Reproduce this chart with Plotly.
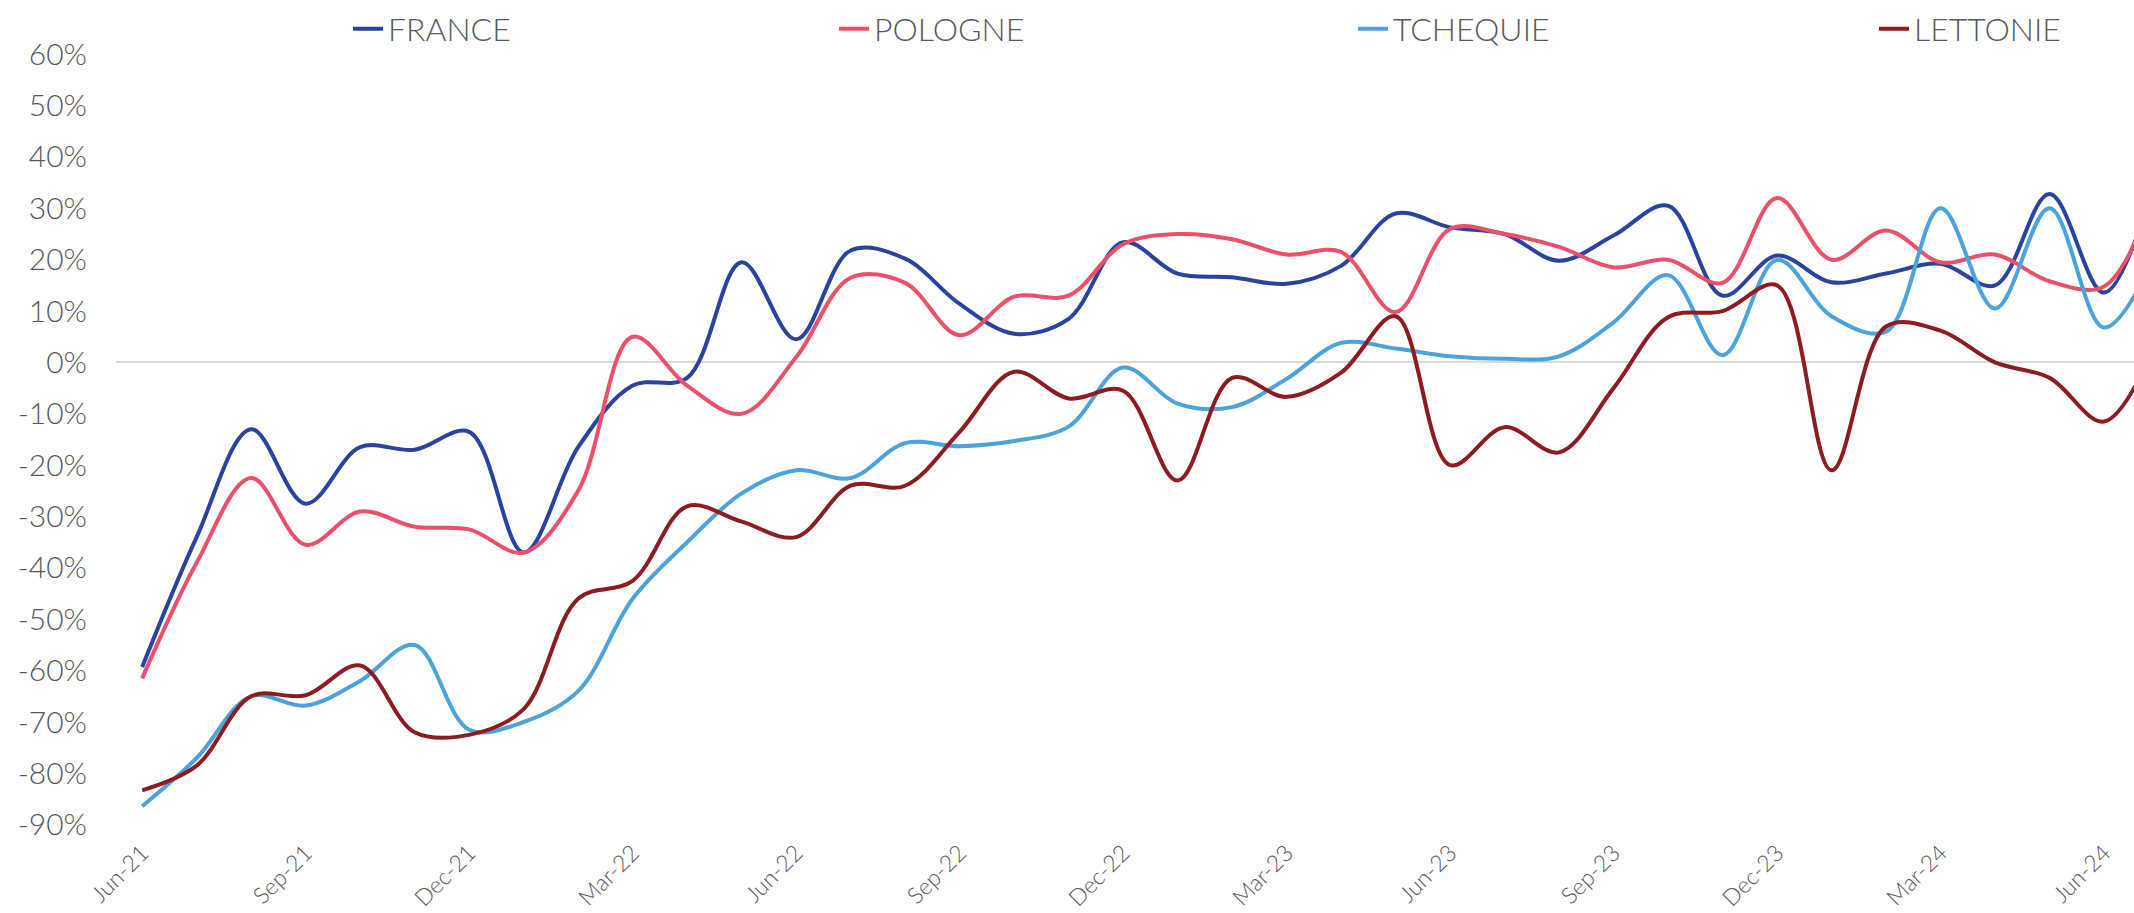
import plotly.graph_objects as go

months = ["Jun-21", "Jul-21", "Aug-21", "Sep-21", "Oct-21", "Nov-21", "Dec-21",
          "Jan-22", "Feb-22", "Mar-22", "Apr-22", "May-22", "Jun-22", "Jul-22",
          "Aug-22", "Sep-22", "Oct-22", "Nov-22", "Dec-22", "Jan-23", "Feb-23",
          "Mar-23", "Apr-23", "May-23", "Jun-23", "Jul-23", "Aug-23", "Sep-23",
          "Oct-23", "Nov-23", "Dec-23", "Jan-24", "Feb-24", "Mar-24", "Apr-24",
          "May-24", "Jun-24", "Jul-24"]

france = [-59.3, -34, -13, -27.5, -16.5, -17, -13.5, -37, -16.5, -4.5, -3, 19.5,
          4.5, 21.8, 20.2, 11.4, 5.6, 8.5, 23.4, 17.3, 16.6, 15.3, 18.8, 29,
          26.3, 25.0, 19.8, 24.7, 30.5, 13.0, 20.8, 15.6, 17.3, 19.2, 15.0, 32.8,
          13.6, 38]
pologne = [-61.5, -39, -22.5, -35.5, -29, -32, -32.5, -37, -25, 5, -4.5, -10,
           1, 16.5, 15.5, 5.3, 12.8, 13, 23, 25, 24, 21, 21.5, 9.8,
           26, 25, 22.5, 18.5, 20, 15.5, 32, 20, 25.7, 19.5, 21, 15.8,
           14.8, 35]
tchequie = [-86.4, -77, -65, -66.8, -62, -55, -71.5, -70, -64, -46, -35, -25.5,
            -21, -22.5, -15.7, -16.3, -15.3, -12.5, -1, -8, -8.7, -3.2, 3.8, 2.7,
            1.2, 0.7, 1.2, 7.8, 17, 1.4, 20, 9, 6, 30, 10.5, 30,
            6.8, 22]
lettonie = [-83.3, -78.5, -65, -64.8, -59, -72, -72.5, -67.5, -46, -42.5, -28, -31,
            -34, -24, -24, -13.5, -1.8, -7, -5.5, -23, -3, -6.7, -2, 9,
            -20, -12.6, -17.5, -5, 8.8, 10, 15, -21, 7, 6.2, 0, -3,
            -11.5, 5]

series_names = ["FRANCE", "POLOGNE", "TCHEQUIE", "LETTONIE"]
series_values = [france, pologne, tchequie, lettonie]
series_colors = ["#2A43A0", "#EC4F6A", "#4AA3DB", "#8E1A22"]
legend_ids = ["legend", "legend2", "legend3", "legend4"]
legend_left_px = [348, 834, 1353, 1874]

y_ticks = list(range(-90, 61, 10))
y_ticktext = [f"{v}%" for v in y_ticks]
x_index = list(range(len(months)))
x_ticks = x_index[0:37:3]
x_ticktext = [months[i] for i in x_ticks]

W, H = 2134, 913
FONT = "Lato"
GREY = "#595959"

fig = go.Figure()
for name, vals, col, lid in zip(series_names, series_values, series_colors, legend_ids):
    fig.add_trace(go.Scatter(
        x=x_index, y=vals, name=name, mode="lines", legend=lid,
        line=dict(color=col, width=4, shape="spline", smoothing=1.0),
    ))

legend_common = dict(
    orientation="h", xref="container", yref="container",
    xanchor="left", y=1 - 29 / H, yanchor="middle",
    font=dict(family=FONT, size=32, color=GREY, weight=300),
    bgcolor="rgba(0,0,0,0)", borderwidth=0,
)
legends = {lid: dict(legend_common, x=px / W) for lid, px in zip(legend_ids, legend_left_px)}

fig.update_layout(
    width=W, height=H,
    margin=dict(l=116, r=0, t=54, b=88, autoexpand=False),
    plot_bgcolor="white", paper_bgcolor="white",
    font=dict(family=FONT, color=GREY, size=30, weight=300),
    showlegend=True,
    xaxis=dict(
        range=[-0.48, 36.55], tickmode="array", tickvals=x_ticks,
        ticktext=x_ticktext, tickangle=-45, showgrid=False, zeroline=False,
        showline=False, ticks="", ticklabelstandoff=9, automargin=False,
        tickfont=dict(family=FONT, size=23, color=GREY, weight=300),
    ),
    yaxis=dict(
        range=[-90.05, 60.05], tickmode="array", tickvals=y_ticks,
        ticktext=y_ticktext, showgrid=False, zeroline=True,
        zerolinecolor="#D9D9D9", zerolinewidth=2, showline=False, ticks="",
        ticklabelstandoff=28, automargin=False,
        tickfont=dict(family=FONT, size=30, color=GREY, weight=300),
    ),
    **legends,
)

fig.write_html("out.html", config={"displayModeBar": False},
               post_script="document.body.style.margin='0';")
